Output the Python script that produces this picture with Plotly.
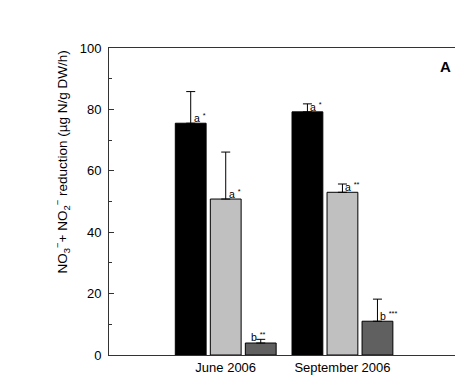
import plotly.graph_objects as go

periods = ["June 2006", "September 2006"]
series_names = ["S1", "S2", "S3"]
series_colors = ["#000000", "#c0c0c0", "#606060"]
values_s1 = [75.5, 79.2]
values_s2 = [50.8, 53.0]
values_s3 = [3.9, 11.0]
err_s1 = [10.3, 2.6]
err_s2 = [15.3, 2.7]
err_s3 = [1.2, 7.2]
labels_s1 = ["a <sup>*</sup>", "a <sup>*</sup>"]
labels_s2 = ["a <sup>*</sup>", "a <sup>**</sup>"]
labels_s3 = ["b <sup>**</sup>", "b <sup>***</sup>"]

values = [values_s1, values_s2, values_s3]
errs = [err_s1, err_s2, err_s3]
labels = [labels_s1, labels_s2, labels_s3]

bargap = 0.10
bargroupgap = 0.12

fig = go.Figure()
for k in range(3):
    fig.add_trace(go.Bar(
        x=periods, y=values[k], name=series_names[k],
        marker=dict(color=series_colors[k], line=dict(color="#000000", width=1)),
        error_y=dict(type="data", symmetric=False, array=errs[k],
                     arrayminus=[0] * len(periods), color="#000000",
                     thickness=1, width=4.5),
        showlegend=False,
    ))

slot = (1 - bargap) / 3
annotations = []
for k in range(3):
    for i in range(len(periods)):
        xc = i + (k - 1) * slot
        if k == 2 and i == 0:
            annotations.append(dict(x=xc, y=values[k][i], xref="x", yref="y",
                                    text=labels[k][i], showarrow=False,
                                    xanchor="center", yanchor="bottom",
                                    xshift=-2, yshift=-2,
                                    font=dict(size=10.5, color="#000000", family="Arial")))
        else:
            annotations.append(dict(x=xc, y=values[k][i], xref="x", yref="y",
                                    text=labels[k][i], showarrow=False,
                                    xanchor="left", yanchor="bottom",
                                    xshift=1, yshift=-3,
                                    font=dict(size=10.5, color="#000000", family="Arial")))

annotations.append(dict(x=0.985, y=0.975, xref="paper", yref="paper",
                        text="<b>A</b>", showarrow=False, xanchor="right", yanchor="top",
                        font=dict(size=15, color="#000000", family="Arial")))
annotations.append(dict(x=-0.135, y=0.63, xref="paper", yref="paper",
                        text="NO<sub>3</sub><sup>\u2212</sup>+ NO<sub>2</sub><sup>\u2212</sup> reduction (\u00b5g N/g DW/h)",
                        textangle=-90, showarrow=False, xanchor="center", yanchor="middle",
                        font=dict(size=13.5, color="#000000", family="Arial")))

fig.update_layout(
    width=455, height=373,
    margin=dict(l=101, r=5, t=40, b=26),
    paper_bgcolor="white", plot_bgcolor="white",
    barmode="group", bargap=bargap, bargroupgap=bargroupgap,
    font=dict(family="Arial", size=13, color="#000000"),
    annotations=annotations,
)
fig.update_xaxes(
    type="category", range=[-1.0, 1.99],
    showline=True, linecolor="#333333", linewidth=1, mirror=True,
    ticks="", showgrid=False, zeroline=False,
    tickfont=dict(size=13, family="Arial"),
)
fig.update_yaxes(
    range=[0, 100], tickvals=[0, 20, 40, 60, 80, 100],
    showline=True, linecolor="#333333", linewidth=1, mirror=True,
    ticks="inside", ticklen=5, tickcolor="#333333",
    minor=dict(ticks="inside", ticklen=3, tickcolor="#333333", dtick=10, tick0=0),
    showgrid=False, zeroline=False, ticklabelstandoff=4,
    tickfont=dict(size=13, family="Arial"),
)

fig.write_html("out.html")
